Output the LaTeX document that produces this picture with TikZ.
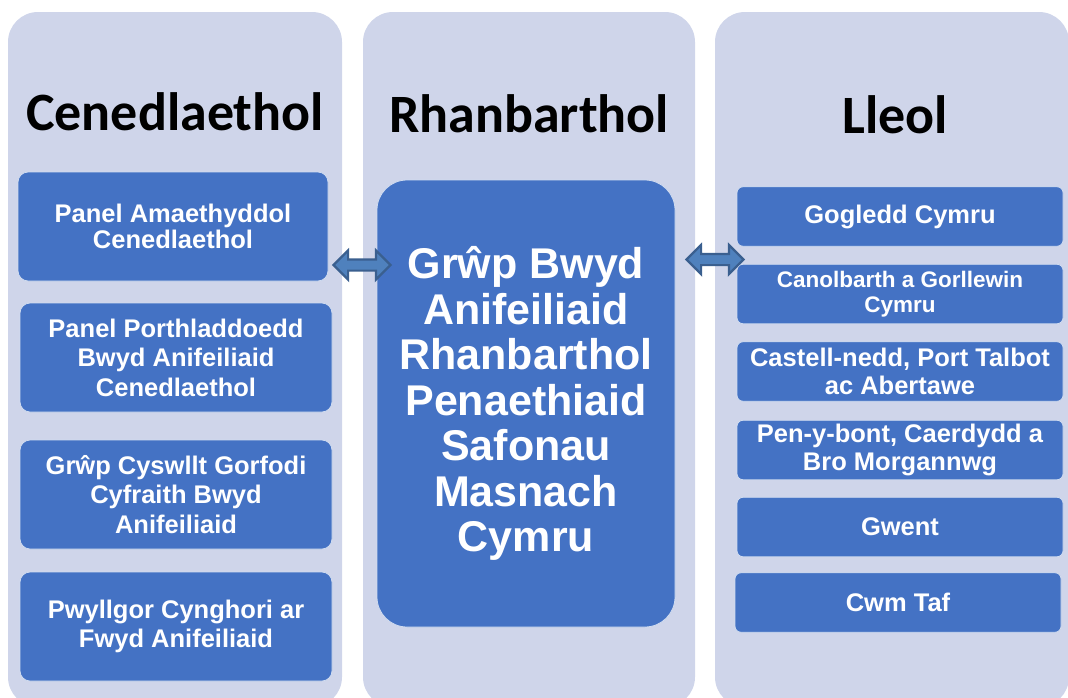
\documentclass[tikz,border=0pt]{standalone}
\usepackage{fontspec}
\setmainfont{Liberation Sans}
\newfontfamily\headfont{Carlito}
\usetikzlibrary{shapes.arrows,positioning,calc}
\definecolor{lanebg}{HTML}{CFD5EA}
\definecolor{boxblue}{HTML}{4472C4}
\definecolor{linkfill}{HTML}{4F81BD}
\definecolor{linkdraw}{HTML}{3A5F8F}
\tikzset{
	lane/.style={
		rectangle, rounded corners=30pt, fill=lanebg,
		minimum width=334pt, minimum height=695pt, inner sep=0pt
	},
	%
	lanetitle/.style={
		anchor=base, font=\headfont\bfseries\fontsize{54}{60}\selectfont
	},
	%
	unit/.style={
		rectangle, rounded corners=10pt, fill=boxblue, draw=white!75!boxblue,
		line width=0.8pt, text=white, align=center, inner sep=0pt, outer sep=0pt,
		minimum width=312pt, minimum height=109pt,
		font=\bfseries\fontsize{25.5}{29.5}\selectfont
	},
	%
	region/.style={
		unit, rounded corners=6pt, minimum width=326pt, minimum height=59.5pt,
		font=\bfseries\fontsize{25.5}{28}\selectfont
	},
	%
	hub/.style={
		unit, rounded corners=30pt, minimum width=298pt, minimum height=447pt,
		font=\bfseries\fontsize{43}{45.5}\selectfont
	},
	%
	link/.style={
		double arrow, double arrow head extend=9pt, inner sep=4.5pt,
		minimum height=57pt, minimum width=26pt,
		fill=linkfill, draw=linkdraw, line width=2.2pt
	}
}

\begin{document}
\begin{tikzpicture}[x=1pt,y=-1pt]
    \useasboundingbox (0,0) rectangle (1068,697);
    \node(natl)[lane] at (175,359.5){};
    \node(regl)[lane, minimum width=332pt] at (529,359.5){};
    \node(locl)[lane, minimum width=354pt] at (892,359.5){};
    \node[lanetitle] at (175,130){Cenedlaethol};
    \node[lanetitle] at (529,132){Rhanbarthol};
    \node[lanetitle] at (895,133){Lleol};
    % national bodies
    \node(pan1)[unit, minimum width=310pt] at (173,226.5){Panel Amaethyddol\\[-3.5pt]Cenedlaethol};
    \node(pan2)[unit, below=22pt of pan1, xshift=3pt]{Panel Porthladdoedd\\Bwyd Anifeiliaid\\Cenedlaethol};
    \node(grpc)[unit, below=28pt of pan2]{Grŵp Cyswllt Gorfodi\\Cyfraith Bwyd\\Anifeiliaid};
    \node(pwyl)[unit, below=23pt of grpc]{Pwyllgor Cynghori ar\\Fwyd Anifeiliaid};
    % regional group
    \node(hub)[hub] at (526,403.5){Grŵp Bwyd\\Anifeiliaid\\Rhanbarthol\\Penaethiaid\\Safonau\\Masnach\\Cymru};
    % local regions
    \node(gog)[region] at (900,216.5){Gogledd Cymru};
    \node(can)[region, below=18pt of gog, font=\bfseries\fontsize{22.5}{25}\selectfont]{Canolbarth a Gorllewin\\Cymru};
    \node(cas)[region, below=18pt of can]{Castell-nedd, Port Talbot\\ac Abertawe};
    \node(pen)[region, below=19pt of cas]{Pen-y-bont, Caerdydd a\\Bro Morgannwg};
    \node(gwe)[region, below=17.5pt of pen]{Gwent};
    \node(cwm)[region, below=16pt of gwe, xshift=-2pt]{Cwm Taf};
    % links
    \node(linkL)[link] at (362,265){};
    \node(linkR)[link] at (715,259.5){};
\end{tikzpicture}
\end{document}
